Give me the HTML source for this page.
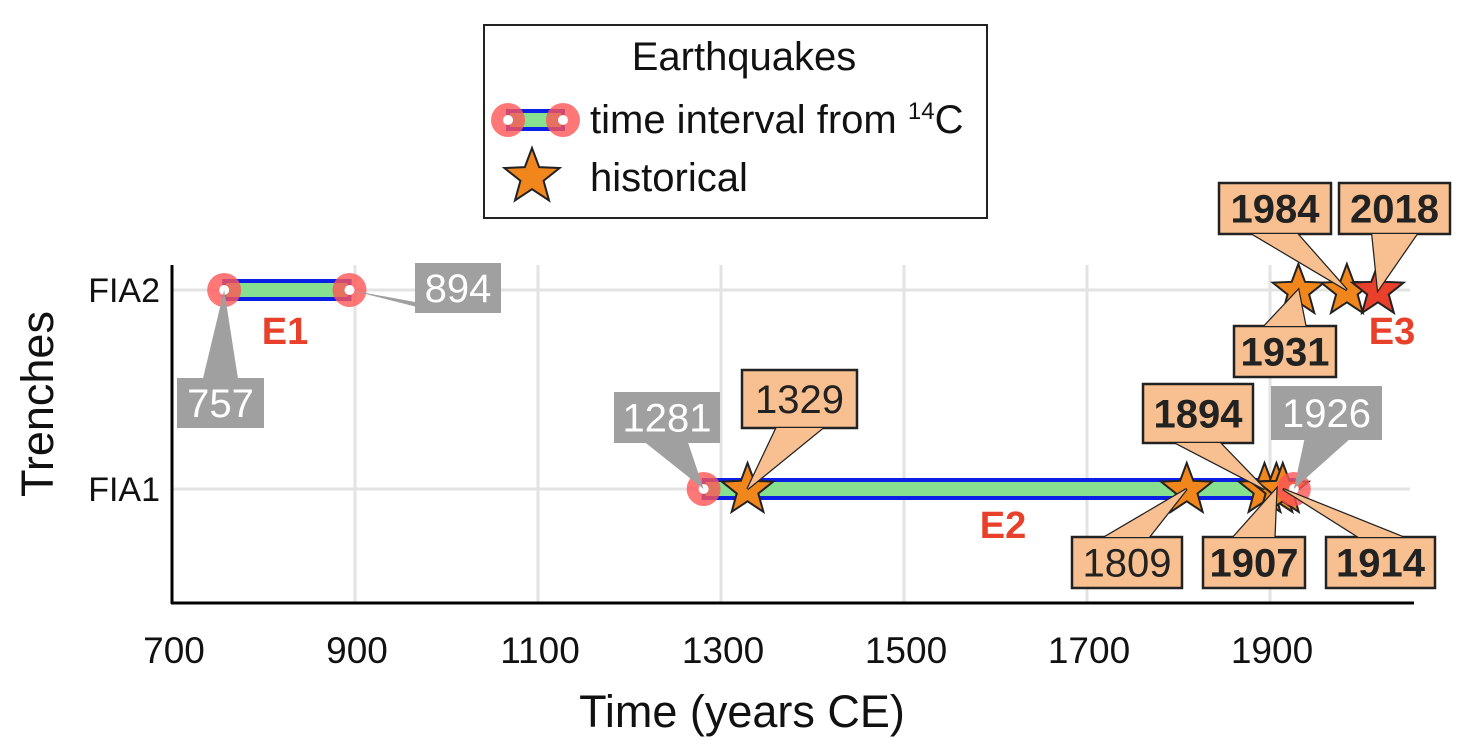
<!DOCTYPE html>
<html><head><meta charset="utf-8"><style>
body{margin:0;background:#fff;}
svg{display:block;font-family:"Liberation Sans",Arial,sans-serif;}
</style></head><body>
<svg id="chart" width="1473" height="753" viewBox="0 0 1473 753"></svg>
<script>
const trenches=["FIA1","FIA2"];
const intervalTrench=["FIA2","FIA1"];
const intervalStart=[757,1281];
const intervalEnd=[894,1926];
const intervalNames=["E1","E2"];
const histYears=[1329,1809,1894,1907,1914,1931,1984,2018];
const histTrench=["FIA1","FIA1","FIA1","FIA1","FIA1","FIA2","FIA2","FIA2"];
const xTicks=[700,900,1100,1300,1500,1700,1900];

const NS="http://www.w3.org/2000/svg";
const svg=document.getElementById("chart");
const X=y=>355+(y-900)*0.915;
const Y=t=>t==="FIA2"?290:489;
function mk(tag,attrs,parent,text){const e=document.createElementNS(NS,tag);for(const k in attrs)e.setAttribute(k,attrs[k]);if(text!==undefined)e.textContent=text;(parent||svg).appendChild(e);return e;}

xTicks.forEach(t=>{if(t>700){const g=mk("line",{x1:X(t),x2:X(t),y1:265,y2:603,stroke:"#e3e3e3","stroke-width":3});

}});
trenches.forEach(t=>{const g=mk("line",{x1:172,x2:1410,y1:Y(t),y2:Y(t),stroke:"#e3e3e3","stroke-width":3});

});
let a=mk("line",{x1:172,x2:172,y1:265,y2:604,stroke:"#000","stroke-width":3});


a=mk("line",{x1:171,x2:1414,y1:603,y2:603,stroke:"#000","stroke-width":3});


xTicks.forEach(t=>{const l=mk("text",{x:X(t)+2,y:663,"font-size":37,"text-anchor":"middle",fill:"#111"},svg,String(t));

});
trenches.forEach(t=>{const l=mk("text",{x:160,y:Y(t)+12,"font-size":34,"text-anchor":"end",fill:"#111"},svg,t);

});
a=mk("text",{x:742,y:727,"font-size":45,"text-anchor":"middle",fill:"#111"},svg,"Time (years CE)");


a=mk("text",{x:0,y:0,"font-size":45,"text-anchor":"middle",fill:"#111",transform:"translate(53,404) rotate(-90)"},svg,"Trenches");



function callout(x0,y0,bx,by,bw,bh,txt,gray,bold,name){
  const g=mk("g",{});
  
  
  const cx=bx+bw/2, top=y0<by;
  const ey=top?by:by+bh;
  const w=bw*0.2;
  const pts=`${x0},${y0} ${cx-w},${ey} ${cx+w},${ey}`;
  if(gray){mk("rect",{x:bx,y:by,width:bw,height:bh,fill:"#a0a0a0"},g);mk("polygon",{points:pts,fill:"#a0a0a0"},g);}
  else{mk("polygon",{points:pts,fill:"#f8c090",stroke:"#222","stroke-width":2.5},g);mk("rect",{x:bx,y:by,width:bw,height:bh,fill:"#f8c090",stroke:"#222","stroke-width":2.5},g);mk("polygon",{points:pts,fill:"#f8c090"},g);}
  mk("text",{x:cx,y:by+bh/2+14,"font-size":40,"text-anchor":"middle",fill:gray?"#fff":"#222","font-weight":bold?"bold":"normal"},g,txt);
}
function star(cx,cy,r,fill,parent){let p="";for(let i=0;i<10;i++){const rr=i%2?r*0.42:r;const a=-Math.PI/2+i*Math.PI/5;p+=(cx+rr*Math.cos(a))+","+(cy+rr*Math.sin(a))+" ";}return mk("polygon",{points:p,fill:fill,stroke:"#222","stroke-width":2},parent);}
function ring(cx,cy,parent){const g=mk("g",{},parent);mk("circle",{cx:cx,cy:cy,r:17,fill:"#f55","fill-opacity":0.8},g);mk("circle",{cx:cx,cy:cy,r:5,fill:"#fff"},g);return g;}

const grayBoxes=[[[177,378,87,50],[415,263,86,50]],[[614,392,106,51],[1271,386,111,54]]];
const nameBoxes=[[285,344],[1003,538]];
intervalStart.forEach((s,i)=>{
  const y=Y(intervalTrench[i]);
  const r=mk("rect",{x:X(s),y:y-9,width:X(intervalEnd[i])-X(s),height:18,fill:"#86e090",stroke:"#0a1ee8","stroke-width":4});
  
  
});
const hb=[[742,370,115,58,false],[1072,537,110,51,false],[1143,384,110,59,true],[1203,537,102,51,true],[1326,537,109,51,true],[1234,326,102,51,true],[1219,183,112,51,true],[1339,183,111,51,true]];
histYears.forEach((yr,i)=>{const s=star(X(yr),Y(histTrench[i])+1,27,yr===2018?"#e8402a":"#f0861c");

});
intervalStart.forEach((s,i)=>{
  const y=Y(intervalTrench[i]);
  const c1=ring(X(s),y);
  const c2=ring(X(intervalEnd[i]),y);
  const b1=grayBoxes[i][0],b2=grayBoxes[i][1];
  callout(X(s),y,b1[0],b1[1],b1[2],b1[3],String(s),true,false,'start-label');
  callout(X(intervalEnd[i]),y,b2[0],b2[1],b2[2],b2[3],String(intervalEnd[i]),true,false,'end-label');
  const t=mk("text",{x:nameBoxes[i][0],y:nameBoxes[i][1],"font-size":38,"font-weight":"bold","text-anchor":"middle",fill:"#e8402a"},svg,intervalNames[i]);
  
  
});
histYears.forEach((yr,i)=>{const b=hb[i];callout(X(yr),Y(histTrench[i]),b[0],b[1],b[2],b[3],String(yr),false,b[4],'historical-label');});
a=mk("text",{x:1392,y:344,"font-size":38,"font-weight":"bold","text-anchor":"middle",fill:"#e8402a"},svg,"E3");



const lg=mk("g",{});


mk("rect",{x:484,y:25,width:503,height:193,fill:"#fff",stroke:"#222","stroke-width":2},lg);
mk("text",{x:744,y:70,"font-size":40,"text-anchor":"middle",fill:"#111"},lg,"Earthquakes");
mk("rect",{x:508,y:111,width:55,height:18,fill:"#86e090",stroke:"#0a1ee8","stroke-width":4},lg);
ring(508,120,lg);ring(563,120,lg);
const lt=mk("text",{x:590,y:133,"font-size":40,fill:"#111"},lg,"time interval from ");
mk("tspan",{"font-size":24,dy:-14},lt,"14");
mk("tspan",{dy:14},lt,"C");
star(532,177,29,"#f0861c",lg);
mk("text",{x:590,y:191,"font-size":40,fill:"#111"},lg,"historical");
</script>
</body></html>
